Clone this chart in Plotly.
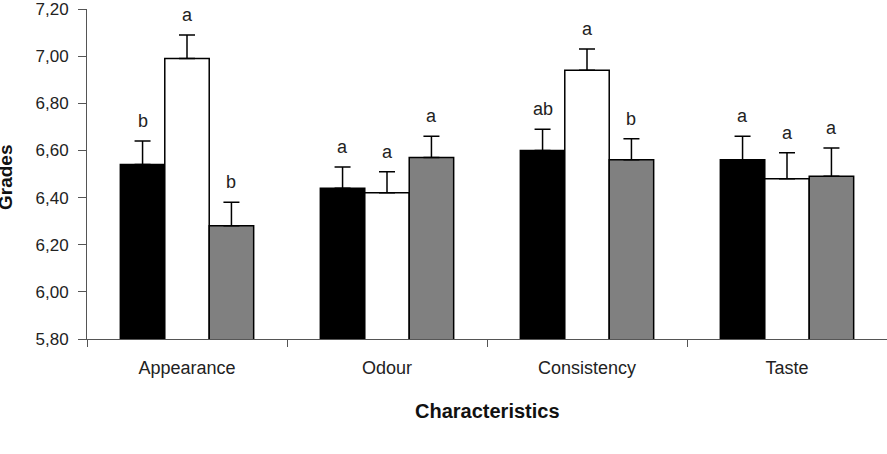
import plotly.graph_objects as go

categories = ["Appearance", "Odour", "Consistency", "Taste"]
series_names = ["Sample 1", "Sample 2", "Sample 3"]
series_colors = ["#000000", "#ffffff", "#808080"]
values = [
    [6.54, 6.44, 6.60, 6.56],
    [6.99, 6.42, 6.94, 6.48],
    [6.28, 6.57, 6.56, 6.49],
]
errors = [
    [0.10, 0.09, 0.09, 0.10],
    [0.10, 0.09, 0.09, 0.11],
    [0.10, 0.09, 0.09, 0.12],
]
letters = [
    ["b", "a", "ab", "a"],
    ["a", "a", "a", "a"],
    ["b", "a", "b", "a"],
]
y_ticks = [5.80, 6.00, 6.20, 6.40, 6.60, 6.80, 7.00, 7.20]
y_tick_labels = [f"{v:.2f}".replace(".", ",") for v in y_ticks]

FONT = "Liberation Sans, Arial, sans-serif"
bargap = 1 / 3
bar_w = (1 - bargap) / 3

fig = go.Figure()
for j in range(3):
    fig.add_trace(go.Bar(
        x=categories, y=values[j], name=series_names[j],
        marker=dict(color=series_colors[j], line=dict(color="#000000", width=1.5)),
        error_y=dict(type="data", symmetric=False, array=errors[j],
                     arrayminus=[0] * len(categories),
                     color="#000000", thickness=1.5, width=8),
    ))

annotations = []
for j in range(3):
    for i, c in enumerate(categories):
        annotations.append(dict(
            x=i + (j - 1) * bar_w, y=values[j][i] + errors[j][i],
            xref="x", yref="y", text=letters[j][i], showarrow=False,
            yanchor="bottom", yshift=8,
            font=dict(family=FONT, size=18, color="#222222"),
        ))

annotations.append(dict(
    x=0.5, y=-0.218, xref="paper", yref="paper", text="<b>Characteristics</b>",
    showarrow=False, xanchor="center", yanchor="middle",
    font=dict(family=FONT, size=20, color="#111111"),
))
annotations.append(dict(
    x=-0.102, y=0.489, xref="paper", yref="paper", text="<b>Grades</b>",
    showarrow=False, xanchor="center", yanchor="middle", textangle=-90,
    font=dict(family=FONT, size=19, color="#111111"),
))

fig.update_layout(
    width=887, height=454,
    margin=dict(l=87, r=0, t=9, b=115),
    paper_bgcolor="#ffffff", plot_bgcolor="#ffffff",
    barmode="group", bargap=bargap, bargroupgap=0,
    showlegend=False,
    annotations=annotations,
    xaxis=dict(
        type="category", tickson="boundaries", ticks="outside", ticklen=7,
        tickcolor="#555555", showline=True, linecolor="#555555", linewidth=1,
        showgrid=False, tickfont=dict(family=FONT, size=18, color="#222222"),
        ticklabelstandoff=12, range=[-0.5, 3.5], ticklabeloverflow="allow",
    ),
    yaxis=dict(
        range=[5.80, 7.20], tickvals=y_ticks, ticktext=y_tick_labels,
        ticks="outside", ticklen=8, tickcolor="#555555",
        showline=True, linecolor="#555555", linewidth=1,
        showgrid=False, zeroline=False, ticklabelstandoff=6,
        ticklabeloverflow="allow",
        tickfont=dict(family=FONT, size=17, color="#222222"),
    ),
)

fig.write_html("out.html")
